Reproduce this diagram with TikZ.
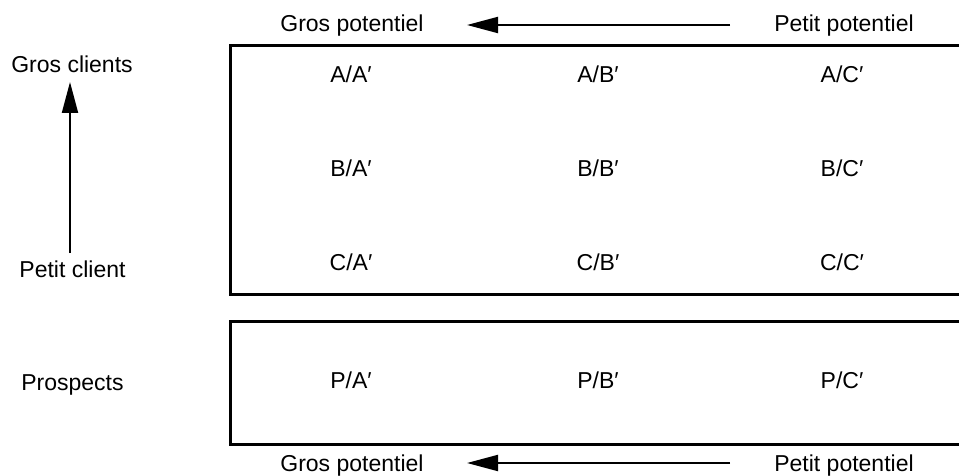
\documentclass[tikz,border=0pt]{standalone}
\usepackage{fontspec}
\setmainfont{Liberation Sans}
\usetikzlibrary{arrows.meta}
\begin{document}
\begin{tikzpicture}[x=1pt,y=-1pt,
  lbl/.style={font=\fontsize{23}{27}\selectfont, inner sep=0pt, anchor=base},
  boxline/.style={line width=3pt},
  arr/.style={line width=2pt, -{Triangle[length=31pt,width=16pt]}}]
\useasboundingbox (0,0) rectangle (959,476);
% boxes
\draw[boxline] (230,45.5) rectangle (975,294);
\draw[boxline] (230,321) rectangle (975,444);
% top labels
\node[lbl] (gp1) at (352,32) {Gros potentiel};
\node[lbl] (pp1) at (844,32) {Petit potentiel};
\coordinate (gp1a) at (467,25);
\coordinate (pp1a) at (730,25);
\draw[arr] (pp1a) -- (gp1a);
% bottom labels
\node[lbl] (gp2) at (352,471) {Gros potentiel};
\node[lbl] (pp2) at (844,471) {Petit potentiel};
\coordinate (gp2a) at (467,463);
\coordinate (pp2a) at (730,463);
\draw[arr] (pp2a) -- (gp2a);
% left labels
\node[lbl] (gc) at (72,73) {Gros clients};
\node[lbl] (pc) at (72.5,277) {Petit client};
\node[lbl] (pr) at (72.5,390) {Prospects};
\coordinate (gca) at (70,82);
\coordinate (pca) at (70,253);
\draw[arr] (pca) -- (gca);
% grid
\node[lbl] (aa) at (351,83) {A/A′};
\node[lbl] (ab) at (598,83) {A/B′};
\node[lbl] (ac) at (842,83) {A/C′};
\node[lbl] (ba) at (351,177) {B/A′};
\node[lbl] (bb) at (598,177) {B/B′};
\node[lbl] (bc) at (842,177) {B/C′};
\node[lbl] (ca) at (351,270) {C/A′};
\node[lbl] (cb) at (598,270) {C/B′};
\node[lbl] (cc) at (842,270) {C/C′};
\node[lbl] (pa) at (351,388) {P/A′};
\node[lbl] (pb) at (598,388) {P/B′};
\node[lbl] (pcc) at (842,388) {P/C′};
\end{tikzpicture}
\end{document}
